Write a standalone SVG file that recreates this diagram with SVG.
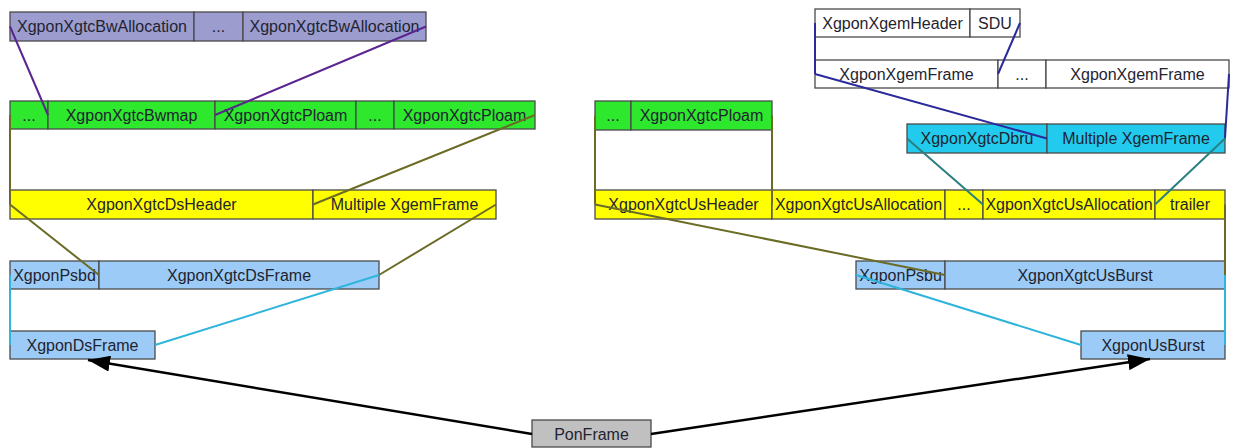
<svg xmlns="http://www.w3.org/2000/svg" width="1233" height="448" viewBox="0 0 1233 448">
<style>
rect{stroke:#4a4a4a;stroke-width:1.3}
.p{fill:#9c9ccf}.g{fill:#2ee82e}.y{fill:#ffff00}.b{fill:#9ccbf7}.c{fill:#22cbee}.w{fill:#ffffff}.k{fill:#c0c0c0}
text{font-family:"Liberation Sans",Arial,sans-serif;font-size:16px;fill:#1f2430;text-anchor:middle}
.e{fill:none;stroke-width:2}
.ep{stroke:#5a2590}.eo{stroke:#6b6b26}.ec{stroke:#2fb4dc}.en{stroke:#2a2a9c}.et{stroke:#2a8080}
.ea{stroke:#000;stroke-width:2.5;marker-end:url(#ah)}
</style>
<defs>
<marker id="ah" markerUnits="userSpaceOnUse" markerWidth="24" markerHeight="16" refX="22" refY="8" orient="auto"><path d="M0,0 L22,8 L0,16 z" fill="#000"/></marker>
</defs>
<g id="XgponXgtcBwAllocations">
<rect class="p" x="10" y="12" width="184" height="29"/><rect class="p" x="194" y="12" width="49" height="29"/><rect class="p" x="243" y="12" width="183" height="29"/>
<text x="102" y="32">XgponXgtcBwAllocation</text><text x="218.5" y="32">...</text><text x="334.5" y="32">XgponXgtcBwAllocation</text>
</g>
<g id="XgponXgtcDsHeaderParts">
<rect class="g" x="10" y="101" width="38" height="28"/><rect class="g" x="48" y="101" width="167" height="28"/><rect class="g" x="215" y="101" width="141" height="28"/><rect class="g" x="356" y="101" width="38" height="28"/><rect class="g" x="394" y="101" width="141" height="28"/>
<text x="29" y="121">...</text><text x="131.5" y="121">XgponXgtcBwmap</text><text x="285.5" y="121">XgponXgtcPloam</text><text x="375" y="121">...</text><text x="464.5" y="121">XgponXgtcPloam</text>
</g>
<g id="XgponXgtcDsFrameParts">
<rect class="y" x="10" y="190" width="303" height="29"/><rect class="y" x="313" y="190" width="183" height="29"/>
<text x="161.5" y="210">XgponXgtcDsHeader</text><text x="404.5" y="210">Multiple XgemFrame</text>
</g>
<g id="XgponDsFrameParts">
<rect class="b" x="10" y="261" width="89" height="28"/><rect class="b" x="99" y="261" width="280" height="28"/>
<text x="54.5" y="281">XgponPsbd</text><text x="239" y="281">XgponXgtcDsFrame</text>
</g>
<g id="XgponDsFrame">
<rect class="b" x="10" y="331" width="145" height="28"/><text x="82.5" y="351">XgponDsFrame</text>
</g>
<g id="PonFrame">
<rect class="k" x="532" y="420" width="119" height="27"/><text x="591.5" y="440">PonFrame</text>
</g>
<g id="XgponXgemFrameParts">
<rect class="w" x="815" y="9" width="155" height="28"/><rect class="w" x="970" y="9" width="50" height="28"/>
<text x="892.5" y="29">XgponXgemHeader</text><text x="995" y="29">SDU</text>
</g>
<g id="MultipleXgemFrame">
<rect class="w" x="815" y="60" width="183" height="28"/><rect class="w" x="998" y="60" width="48" height="28"/><rect class="w" x="1046" y="60" width="183" height="28"/>
<text x="906.5" y="80">XgponXgemFrame</text><text x="1022" y="80">...</text><text x="1137.5" y="80">XgponXgemFrame</text>
</g>
<g id="XgponXgtcUsHeaderParts">
<rect class="g" x="595" y="101" width="36" height="29"/><rect class="g" x="631" y="101" width="141" height="29"/>
<text x="613" y="121">...</text><text x="701.5" y="121">XgponXgtcPloam</text>
</g>
<g id="XgponXgtcUsAllocationParts">
<rect class="c" x="907" y="124" width="140" height="29"/><rect class="c" x="1047" y="124" width="178" height="29"/>
<text x="977" y="144">XgponXgtcDbru</text><text x="1136" y="144">Multiple XgemFrame</text>
</g>
<g id="XgponXgtcUsBurstParts">
<rect class="y" x="595" y="190" width="177" height="29"/><rect class="y" x="772" y="190" width="173" height="29"/><rect class="y" x="945" y="190" width="38" height="29"/><rect class="y" x="983" y="190" width="172" height="29"/><rect class="y" x="1155" y="190" width="70" height="29"/>
<text x="683.5" y="210">XgponXgtcUsHeader</text><text x="858.5" y="210">XgponXgtcUsAllocation</text><text x="964" y="210">...</text><text x="1069" y="210">XgponXgtcUsAllocation</text><text x="1190" y="210">trailer</text>
</g>
<g id="XgponUsBurstParts">
<rect class="b" x="856" y="261" width="89" height="28"/><rect class="b" x="945" y="261" width="280" height="28"/>
<text x="900.5" y="281">XgponPsbu</text><text x="1085" y="281">XgponXgtcUsBurst</text>
</g>
<g id="XgponUsBurst">
<rect class="b" x="1081" y="331" width="144" height="28"/><text x="1153" y="351">XgponUsBurst</text>
</g>
<g id="connectors">
<path class="e ep" d="M10,26.5 L48,115"/>
<path class="e ep" d="M426,26.5 L215,115"/>
<path class="e eo" d="M10,115 L10,204.5"/>
<path class="e eo" d="M535,115 L313,204.5"/>
<path class="e eo" d="M10,204.5 L99,275"/>
<path class="e eo" d="M496,204.5 L379,275"/>
<path class="e ec" d="M10,275 L10,345"/>
<path class="e ec" d="M379,275 L155,345"/>
<path class="e en" d="M815,23 L815,74"/>
<path class="e en" d="M1020,23 L998,74"/>
<path class="e en" d="M815,74 L1047,138.5"/>
<path class="e en" d="M1229,74 L1225,138.5"/>
<path class="e et" d="M907,138.5 L983,204.5"/>
<path class="e et" d="M1225,138.5 L1155,204.5"/>
<path class="e eo" d="M595,115.5 L595,204.5"/>
<path class="e eo" d="M772,115.5 L772,204.5"/>
<path class="e eo" d="M595,204.5 L945,275"/>
<path class="e eo" d="M1225,204.5 L1225,275"/>
<path class="e ec" d="M856,275 L1081,345"/>
<path class="e ec" d="M1225,275 L1225,345"/>
<path class="e ea" d="M532,434 L88,360"/>
<path class="e ea" d="M651,434 L1150,359"/>
</g>
</svg>
